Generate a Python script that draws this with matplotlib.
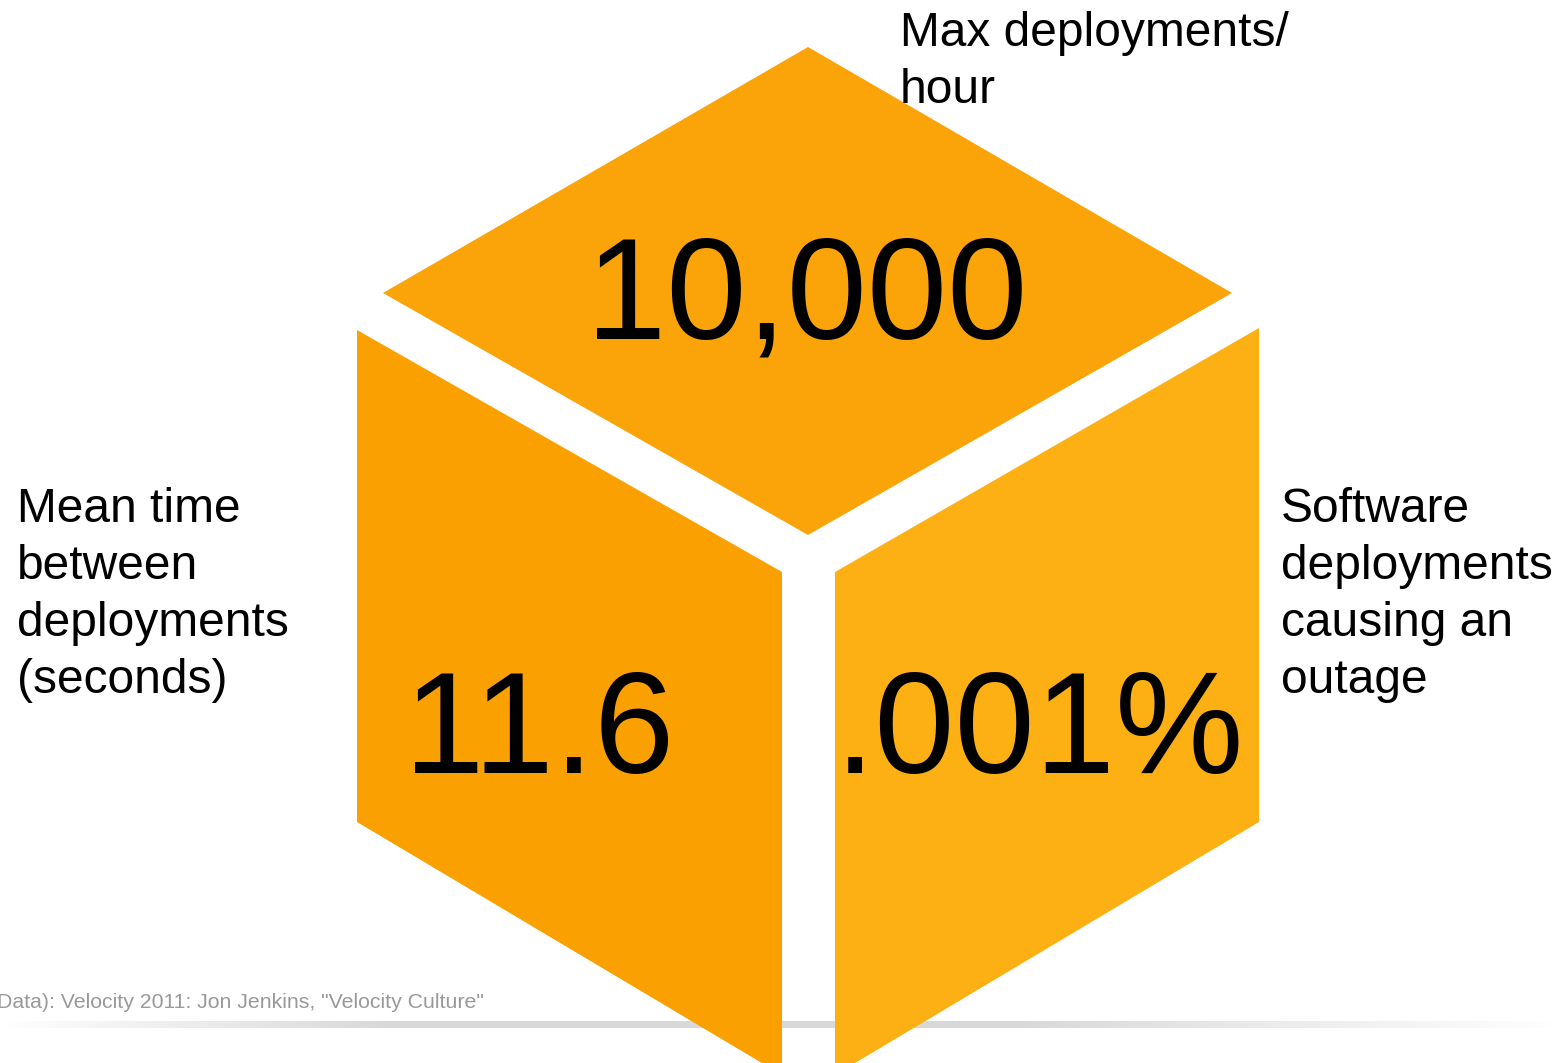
import numpy as np
import matplotlib.pyplot as plt
from matplotlib.patches import Polygon

# chart content
values = ["10,000", "11.6", ".001%"]
labels = ["Max deployments/\nhour",
          "Mean time\nbetween\ndeployments\n(seconds)",
          "Software\ndeployments\ncausing an\noutage"]
face_colors = ["#FBA409", "#FBA001", "#FDB014"]
source = 'Data): Velocity 2011: Jon Jenkins, "Velocity Culture"'

W, H = 1561, 1063
fig = plt.figure(figsize=(W / 100, H / 100), dpi=100)
ax = fig.add_axes([0, 0, 1, 1])
ax.set_xlim(0, W)
ax.set_ylim(H, 0)
ax.axis("off")
plt.rcParams['font.family'] = ['Liberation Sans', 'DejaVu Sans']

# faded grey rule under the cube
xs = np.linspace(0, 1, 400)
alpha = np.clip(np.minimum(xs / 0.25, (1 - xs) / 0.35), 0, 1)
grad = np.zeros((1, len(xs), 4))
grad[..., :3] = 0.85
grad[0, :, 3] = alpha
ax.imshow(grad, extent=[0, W, 1028, 1021], aspect="auto", zorder=1)

# cube faces (pixel geometry)
top = [(808, 47), (383, 293), (808, 535), (1232, 293)]
left = [(357, 330), (782, 572), (782, 1075), (357, 822)]
right = [(835, 572), (1259, 328), (1259, 822), (835, 1075)]
for pts, c in zip([top, left, right], face_colors):
    ax.add_patch(Polygon(pts, closed=True, fc=c, ec="none", zorder=2))

# big numbers
num_pos = [(807, 301), (539, 736), (1040, 736)]
for v, (x, y) in zip(values, num_pos):
    ax.text(x, y, v, fontsize=104, ha="center", va="center", color="black", zorder=3)

# descriptive labels
lab_pos = [(900, 11), (17, 487), (1281, 487)]
for t, (x, y) in zip(labels, lab_pos):
    ax.text(x, y, t, fontsize=34.5, ha="left", va="top", color="black",
            linespacing=1.34, zorder=3)

ax.text(-3, 1002, source, fontsize=15.3, ha="left", va="center", color="#999999", zorder=3)

fig.savefig("out.png", dpi=100)
